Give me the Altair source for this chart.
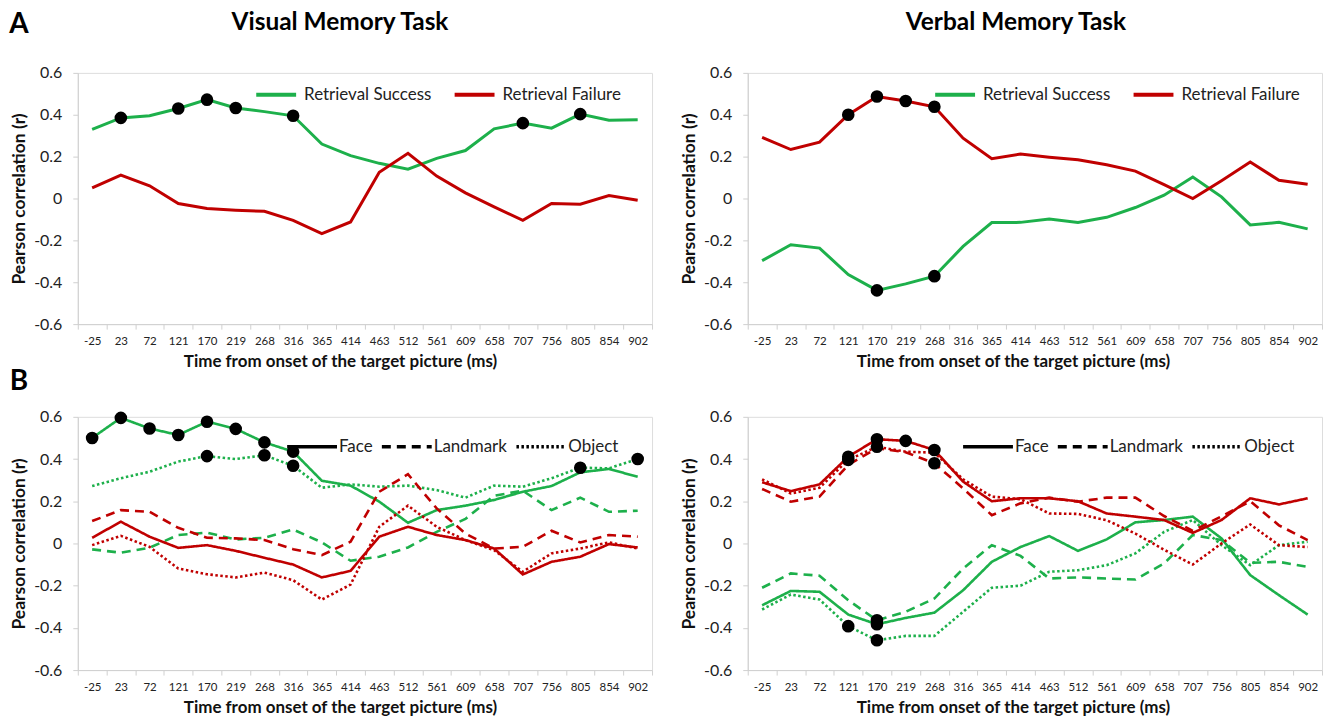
import altair as alt
import pandas as pd

FONT = "Lato"
GREEN = "#1db04b"
RED = "#c00000"

times = ["-25", "23", "72", "121", "170", "219", "268", "316", "365", "414",
         "463", "512", "561", "609", "658", "707", "756", "805", "854", "902"]

# ---------- Panel A : Visual memory task ----------
vis_success = [0.33, 0.385, 0.395, 0.43, 0.472, 0.432, 0.415, 0.395, 0.26, 0.205,
               0.168, 0.14, 0.192, 0.229, 0.333, 0.36, 0.336, 0.403, 0.374, 0.376]
vis_failure = [0.051, 0.112, 0.061, -0.024, -0.048, -0.056, -0.061, -0.104, -0.168, -0.112,
               0.125, 0.216, 0.107, 0.027, -0.04, -0.104, -0.024, -0.027, 0.014, -0.008]
vis_success_sig = ["23", "121", "170", "219", "316", "707", "805"]
vis_failure_sig = []

# ---------- Panel A : Verbal memory task ----------
ver_success = [-0.297, -0.221, -0.237, -0.363, -0.439, -0.408, -0.371, -0.229, -0.115, -0.114,
               -0.098, -0.115, -0.09, -0.043, 0.016, 0.103, 0.008, -0.126, -0.114, -0.145]
ver_failure = [0.292, 0.234, 0.269, 0.40, 0.487, 0.466, 0.438, 0.288, 0.19, 0.212,
               0.197, 0.185, 0.161, 0.131, 0.066, 0.0, 0.085, 0.174, 0.087, 0.068]
ver_success_sig = ["170", "268"]
ver_failure_sig = ["121", "170", "219", "268"]

# ---------- Panel B : Visual memory task ----------
vis_face_s = [0.50, 0.595, 0.545, 0.514, 0.577, 0.543, 0.479, 0.435, 0.297, 0.274,
              0.198, 0.098, 0.158, 0.179, 0.206, 0.245, 0.272, 0.337, 0.353, 0.316]
vis_land_s = [-0.028, -0.044, -0.02, 0.04, 0.051, 0.019, 0.027, 0.066, 0.005, -0.082,
              -0.063, -0.019, 0.055, 0.116, 0.226, 0.25, 0.158, 0.217, 0.15, 0.155]
vis_obj_s = [0.272, 0.309, 0.34, 0.388, 0.414, 0.40, 0.418, 0.368, 0.264, 0.28,
             0.269, 0.274, 0.253, 0.217, 0.274, 0.269, 0.309, 0.359, 0.356, 0.40]
vis_face_f = [0.027, 0.103, 0.032, -0.021, -0.008, -0.035, -0.068, -0.10, -0.161, -0.13,
              0.032, 0.079, 0.04, 0.016, -0.024, -0.147, -0.087, -0.063, -0.003, -0.019]
vis_land_f = [0.106, 0.158, 0.15, 0.074, 0.027, 0.024, 0.016, -0.027, -0.055, 0.008,
              0.245, 0.328, 0.166, 0.047, -0.024, -0.016, 0.06, 0.005, 0.04, 0.032]
vis_obj_f = [-0.008, 0.036, -0.016, -0.119, -0.146, -0.161, -0.138, -0.174, -0.266, -0.195,
             0.079, 0.179, 0.079, 0.016, -0.032, -0.134, -0.047, -0.024, 0.005, -0.024]
vis_face_s_sig = ["-25", "23", "72", "121", "170", "219", "268", "316"]
vis_obj_s_sig = ["170", "268", "316", "805", "902"]

# ---------- Panel B : Verbal memory task ----------
ver_face_s = [-0.293, -0.225, -0.229, -0.337, -0.383, -0.353, -0.328, -0.222, -0.087, -0.017,
              0.035, -0.035, 0.019, 0.10, 0.111, 0.127, 0.024, -0.15, -0.245, -0.337]
ver_land_s = [-0.21, -0.142, -0.153, -0.269, -0.364, -0.324, -0.261, -0.119, -0.008, -0.059,
              -0.166, -0.161, -0.166, -0.171, -0.095, 0.04, 0.016, -0.092, -0.087, -0.111]
ver_obj_s = [-0.313, -0.242, -0.266, -0.392, -0.459, -0.438, -0.438, -0.324, -0.21, -0.2,
             -0.134, -0.127, -0.103, -0.047, 0.055, 0.111, -0.008, -0.103, -0.008, 0.008]
ver_face_f = [0.29, 0.248, 0.28, 0.411, 0.494, 0.486, 0.443, 0.293, 0.20, 0.214,
              0.214, 0.20, 0.142, 0.127, 0.111, 0.05, 0.111, 0.214, 0.185, 0.214]
ver_land_f = [0.258, 0.198, 0.222, 0.372, 0.451, 0.432, 0.38, 0.261, 0.134, 0.19,
              0.217, 0.198, 0.217, 0.217, 0.13, 0.06, 0.128, 0.2, 0.086, 0.016]
ver_obj_f = [0.304, 0.237, 0.264, 0.396, 0.458, 0.435, 0.43, 0.304, 0.222, 0.21,
             0.142, 0.14, 0.11, 0.047, -0.03, -0.1, 0.0, 0.09, -0.008, -0.017]
ver_face_f_sig = ["121", "170", "219", "268"]
ver_land_f_sig = ["268"]
ver_obj_f_sig = ["121", "170"]
ver_face_s_sig = ["170"]
ver_land_s_sig = ["170"]
ver_obj_s_sig = ["121", "170"]

conditions = ["Retrieval Success", "Retrieval Failure"]
types = ["Face", "Landmark", "Object"]
y_ticks = [-0.6, -0.4, -0.2, 0.0, 0.2, 0.4, 0.6]
panel_titles = ["Visual Memory Task", "Verbal Memory Task"]
panel_letters = ["A", "B"]


def make_df(series):
    rows = []
    for cond, typ, vals, sig in series:
        for t, v in zip(times, vals):
            rows.append({"time": t, "value": v, "condition": cond,
                         "type": typ, "sig": t in sig})
    return pd.DataFrame(rows)


label_expr = ("datum.value == 0 ? '0' : (datum.value < 0 ? '-' : '') + "
              "format(abs(datum.value), '.1f')")

x_title = "Time from onset of the target picture (ms)"


def x_enc(title_x):
    return alt.X("time:N", sort=times, bandPosition=0.5,
                 scale=alt.Scale(type="band", paddingInner=0, paddingOuter=0),
                 axis=alt.Axis(title=x_title, labelAngle=0, tickBand="extent",
                               labelFontSize=11.5, labelFont=FONT, labelColor="#222",
                               titleFont=FONT, titleFontSize=17, titleFontWeight="bold",
                               titleColor="#111", titlePadding=7, titleX=title_x,
                               domainColor="#d0d0d0", tickColor="#d0d0d0", tickSize=5,
                               labelPadding=6))


def y_enc():
    return alt.Y("value:Q",
                 scale=alt.Scale(domain=[-0.6, 0.6], nice=False, zero=False),
                 axis=alt.Axis(title="Pearson correlation (r)", values=y_ticks,
                               labelExpr=label_expr, grid=False,
                               labelFontSize=16, labelFont=FONT, labelColor="#222",
                               titleFont=FONT, titleFontSize=17.5, titleFontWeight="bold",
                               titleColor="#111", titlePadding=5,
                               domainColor="#d0d0d0", tickColor="#d0d0d0", tickSize=5,
                               labelPadding=11))


def text_mark(txt, dx, dy, size):
    return alt.Chart(pd.DataFrame({"t": [txt]})).mark_text(
        font=FONT, fontSize=size, fontWeight="bold", align="center",
        baseline="middle", color="black"
    ).encode(text="t:N", x=alt.value(dx), y=alt.value(dy))


def panel_a(df, width, height, extras, legend_x, title_x):
    base = alt.Chart(df)
    lines = base.mark_line(strokeWidth=3).encode(
        x=x_enc(title_x), y=y_enc(),
        color=alt.Color("condition:N",
                        scale=alt.Scale(domain=conditions, range=[GREEN, RED]),
                        legend=alt.Legend(orient="none", legendX=legend_x, legendY=0,
                                          direction="horizontal", title=None,
                                          symbolType="stroke", symbolSize=1600,
                                          symbolStrokeWidth=4, labelFontSize=17,
                                          labelFont=FONT, labelColor="#222",
                                          columnPadding=15, labelOffset=6, padding=0)),
    )
    dots = base.transform_filter("datum.sig").mark_circle(
        size=160, color="black", opacity=1).encode(x=x_enc(title_x), y=y_enc())
    return alt.layer(lines, dots, *extras).properties(width=width, height=height)


def panel_b(df, width, height, legend_x, title_x):
    base = alt.Chart(df)
    lines = base.mark_line(strokeWidth=2.6).encode(
        x=x_enc(title_x), y=y_enc(),
        color=alt.Color("condition:N",
                        scale=alt.Scale(domain=conditions, range=[GREEN, RED]),
                        legend=None),
        strokeDash=alt.StrokeDash(
            "type:N",
            scale=alt.Scale(domain=types, range=[[1, 0], [9, 6], [2.5, 2.5]]),
            legend=alt.Legend(orient="none", legendX=legend_x, legendY=3,
                              direction="horizontal", title=None,
                              symbolType="stroke", symbolSize=2500,
                              symbolStrokeWidth=3.5, symbolStrokeColor="black",
                              labelFontSize=17, labelFont=FONT, labelColor="#222",
                              columnPadding=2, labelOffset=0, padding=0)),
        detail="condition:N",
    )
    dots = base.transform_filter("datum.sig").mark_circle(
        size=160, color="black", opacity=1).encode(x=x_enc(title_x), y=y_enc())
    return alt.layer(lines, dots).properties(width=width, height=height)


df_a_vis = make_df([
    ("Retrieval Success", "All", vis_success, vis_success_sig),
    ("Retrieval Failure", "All", vis_failure, vis_failure_sig),
])
df_a_ver = make_df([
    ("Retrieval Success", "All", ver_success, ver_success_sig),
    ("Retrieval Failure", "All", ver_failure, ver_failure_sig),
])
df_b_vis = make_df([
    ("Retrieval Success", "Face", vis_face_s, vis_face_s_sig),
    ("Retrieval Success", "Landmark", vis_land_s, []),
    ("Retrieval Success", "Object", vis_obj_s, vis_obj_s_sig),
    ("Retrieval Failure", "Face", vis_face_f, []),
    ("Retrieval Failure", "Landmark", vis_land_f, []),
    ("Retrieval Failure", "Object", vis_obj_f, []),
])
df_b_ver = make_df([
    ("Retrieval Success", "Face", ver_face_s, ver_face_s_sig),
    ("Retrieval Success", "Landmark", ver_land_s, ver_land_s_sig),
    ("Retrieval Success", "Object", ver_obj_s, ver_obj_s_sig),
    ("Retrieval Failure", "Face", ver_face_f, ver_face_f_sig),
    ("Retrieval Failure", "Landmark", ver_land_f, ver_land_f_sig),
    ("Retrieval Failure", "Object", ver_obj_f, ver_obj_f_sig),
])

W = 576
HA = 252
HB = 254

left_extras = [
    text_mark(panel_letters[0], -59, -48, 28),
    text_mark(panel_titles[0], 263, -50, 24.5),
    text_mark(panel_letters[1], -59, 310, 28),
]
right_extras = [text_mark(panel_titles[1], 269, -50, 24.5)]

top = alt.hconcat(
    panel_a(df_a_vis, W, HA, left_extras, 177, 263),
    panel_a(df_a_ver, W, HA, right_extras, 186, 266),
    spacing=27,
).resolve_scale(color="independent").resolve_legend(color="independent")

bottom = alt.hconcat(
    panel_b(df_b_vis, W, HB, 208, 263),
    panel_b(df_b_ver, W, HB, 214, 266),
    spacing=27,
).resolve_scale(color="independent", strokeDash="independent").resolve_legend(
    color="independent", strokeDash="independent")

chart = alt.vconcat(top, bottom, spacing=11).resolve_scale(
    color="independent", strokeDash="independent"
).resolve_legend(color="independent", strokeDash="independent").properties(
    padding={"left": 0, "top": 0, "right": 0, "bottom": 0}
).configure_view(stroke=None).configure(font=FONT)

chart.save("out.html", embed_options={"renderer": "svg", "actions": False})
